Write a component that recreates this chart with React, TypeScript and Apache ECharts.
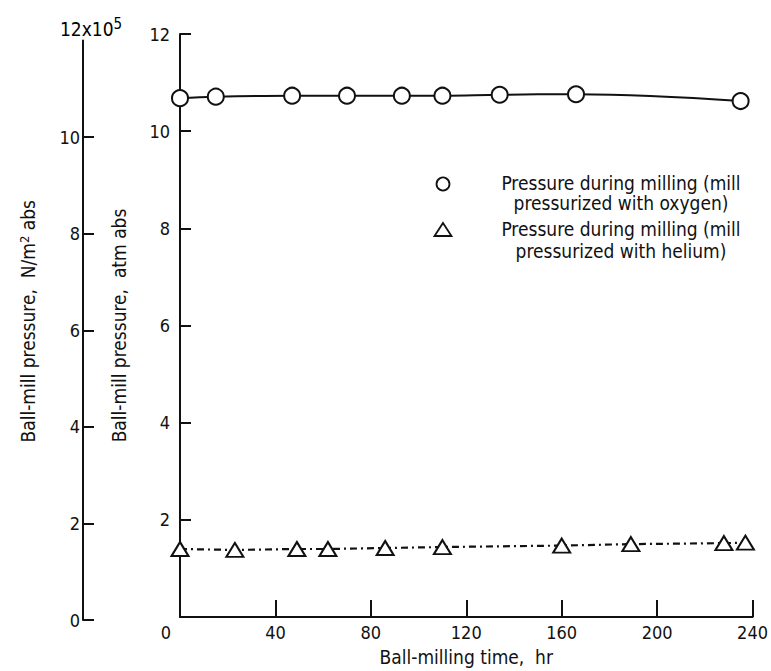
import React, { useEffect, useRef } from "react";
import * as echarts from "echarts";

const oxygenHours = [0, 15, 47, 70, 93, 110, 134, 166, 235];
const oxygenAtm = [10.68, 10.71, 10.73, 10.73, 10.73, 10.73, 10.75, 10.76, 10.62];
const heliumHours = [0, 23, 49, 62, 86, 110, 160, 189, 228, 237];
const heliumAtm = [1.4, 1.38, 1.4, 1.4, 1.42, 1.44, 1.47, 1.5, 1.52, 1.53];
const oxygenName = "Pressure during milling (mill pressurized with oxygen)";
const heliumName = "Pressure during milling (mill pressurized with helium)";
const legendLines1 = ["Pressure during milling (mill", "pressurized with oxygen)"];
const legendLines2 = ["Pressure during milling (mill", "pressurized with helium)"];

const FONT = "'Liberation Sans Narrow', 'DejaVu Sans Condensed', 'Roboto Condensed', sans-serif";
const INK = "#111";

export default function App() {
  const ref = useRef<HTMLDivElement>(null);
  useEffect(() => {
    if (!ref.current) return;
    const chart = echarts.init(ref.current, undefined, { renderer: "svg" });
    const tickText = { fontFamily: FONT, fontSize: 18, color: INK };
    const titleText = { fontFamily: FONT, fontSize: 19, color: INK };
    chart.setOption({
      animation: false,
      backgroundColor: "#fff",
      grid: [
        { left: 180, right: 16, top: 34, bottom: 53 },
        { left: 83, width: 1, top: 40.5, bottom: 51 },
      ],
      xAxis: [
        {
          gridIndex: 0,
          type: "value",
          min: 0,
          max: 240,
          interval: 40,
          name: "Ball-milling time,  hr",
          nameLocation: "middle",
          nameGap: 30,
          nameTextStyle: { ...titleText },
          axisLine: { lineStyle: { color: INK, width: 2 } },
          axisTick: { inside: true, length: 17, lineStyle: { color: INK, width: 2 } },
          axisLabel: {
            ...tickText,
            margin: 6,
            formatter: (v: number) => (v === 0 ? "{z|0}" : String(v)),
            rich: { z: { ...tickText, padding: [0, 28, 0, 0] } },
          },
          splitLine: { show: false },
        },
        { gridIndex: 1, type: "value", show: false, min: 0, max: 1 },
      ],
      yAxis: [
        {
          gridIndex: 0,
          type: "value",
          min: 0,
          max: 12,
          interval: 2,
          name: "Ball-mill pressure,  atm abs",
          nameLocation: "middle",
          nameGap: 52,
          nameTextStyle: { ...titleText },
          axisLine: { show: true, lineStyle: { color: INK, width: 2 } },
          axisTick: { show: true, inside: true, length: 11, lineStyle: { color: INK, width: 2 } },
          axisLabel: { ...tickText, margin: 10, showMinLabel: false },
          splitLine: { show: false },
        },
        {
          gridIndex: 1,
          type: "value",
          min: 0,
          max: 12,
          interval: 2,
          name: "Ball-mill pressure,  N/m{sup|2} abs",
          nameLocation: "middle",
          nameGap: 46,
          nameTextStyle: {
            ...titleText,
            padding: [0, 0, 0, 18],
            rich: {
              sup: { fontFamily: FONT, fontSize: 13, color: INK, verticalAlign: "top", lineHeight: 12 },
            },
          },
          axisLine: { show: true, lineStyle: { color: INK, width: 2 } },
          axisTick: { show: true, inside: true, length: 11, lineStyle: { color: INK, width: 2 } },
          axisLabel: { ...tickText, margin: 3, showMaxLabel: false },
          splitLine: { show: false },
        },
      ],
      series: [
        {
          name: oxygenName,
          type: "line",
          xAxisIndex: 0,
          yAxisIndex: 0,
          data: oxygenHours.map((h, i) => [h, oxygenAtm[i]]),
          smooth: 0.4,
          symbol: "circle",
          symbolSize: 16,
          itemStyle: { color: "#fff", borderColor: INK, borderWidth: 2 },
          lineStyle: { color: INK, width: 2 },
          z: 3,
        },
        {
          name: heliumName,
          type: "line",
          xAxisIndex: 0,
          yAxisIndex: 0,
          data: heliumHours.map((h, i) => [h, heliumAtm[i]]),
          symbol: "triangle",
          symbolSize: [17, 14],
          itemStyle: { color: "#fff", borderColor: INK, borderWidth: 2 },
          lineStyle: { color: INK, width: 2.2, type: [7, 4, 2, 4] },
          z: 3,
        },
      ],
      graphic: [
        {
          type: "text",
          left: 60,
          top: 16,
          style: {
            text: "{a|12x10}{s|5}",
            rich: {
              a: { fontFamily: FONT, fontSize: 19, color: INK, verticalAlign: "bottom", lineHeight: 22 },
              s: { fontFamily: FONT, fontSize: 15, color: INK, verticalAlign: "top", lineHeight: 14 },
            },
          },
        },
        {
          type: "circle",
          shape: { cx: 443, cy: 184, r: 6.5 },
          style: { fill: "#fff", stroke: INK, lineWidth: 1.8 },
        },
        {
          type: "polygon",
          shape: { points: [[443, 223], [451.5, 236], [434.5, 236]] },
          style: { fill: "#fff", stroke: INK, lineWidth: 1.8 },
        },
        ...legendLines1.map((t, i) => ({
          type: "text",
          x: 621,
          y: 183 + i * 20,
          style: { text: t, fill: INK, textAlign: "center", textVerticalAlign: "middle", fontSize: 19, fontFamily: FONT },
        })),
        ...legendLines2.map((t, i) => ({
          type: "text",
          x: 621,
          y: 229 + i * 22,
          style: { text: t, fill: INK, textAlign: "center", textVerticalAlign: "middle", fontSize: 19, fontFamily: FONT },
        })),
      ],
    });
    return () => chart.dispose();
  }, []);
  return <div ref={ref} style={{ position: "fixed", left: 0, top: 0, width: 771, height: 671 }} />;
}
